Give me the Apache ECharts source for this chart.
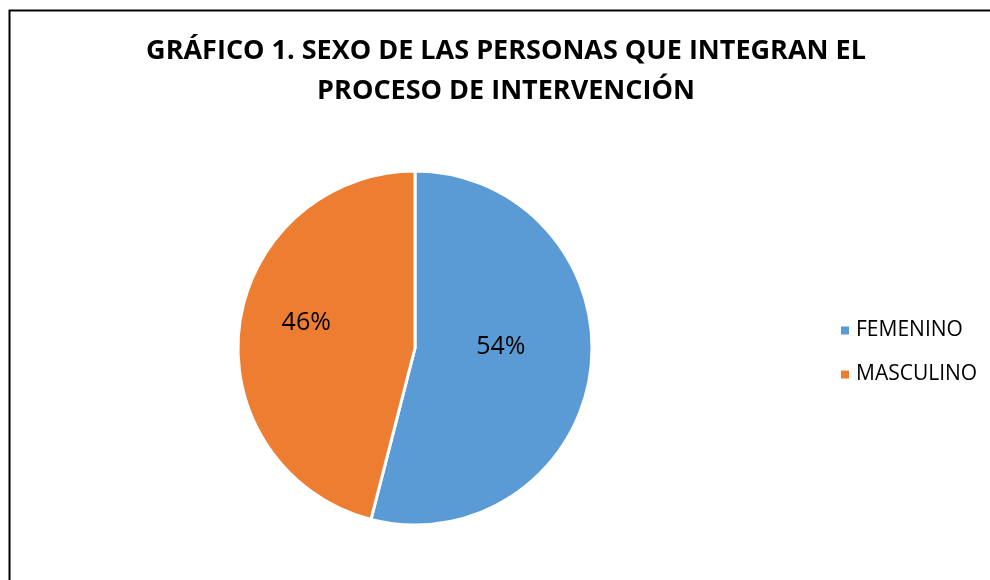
<!DOCTYPE html>
<html><head><meta charset="utf-8">
<script src="https://cdn.jsdelivr.net/npm/echarts@6/dist/echarts.min.js"></script>
<style>html,body{margin:0;padding:0;background:#fff}#c{width:990px;height:580px}</style>
</head><body><div id="c"></div>
<script>
const categories = ["FEMENINO", "MASCULINO"];
const values = [54, 46];
const colors = ["#5B9BD5", "#ED7D31"];
const titleText = "GRÁFICO 1. SEXO DE LAS PERSONAS QUE INTEGRAN EL\nPROCESO DE INTERVENCIÓN";
const labelOffsets = [[-5, -13], [-18, -14]];

const chart = echarts.init(document.getElementById('c'), null, {renderer: 'canvas'});
chart.setOption({
  backgroundColor: '#fff',
  animation: false,
  graphic: [{
    type: 'rect', left: 7, top: 8,
    shape: {width: 1100, height: 700},
    style: {fill: 'none', stroke: '#000', lineWidth: 2}, silent: true
  }],
  title: {
    text: titleText, left: 501, top: 26, textAlign: 'center',
    textStyle: {fontFamily: 'Open Sans', fontWeight: 'bold', fontSize: 27, lineHeight: 40, color: '#000'}
  },
  legend: {
    orient: 'vertical', left: 834, top: 315,
    itemWidth: 10, itemHeight: 10, itemGap: 23, icon: 'rect',
    textStyle: {fontFamily: 'Open Sans', fontSize: 21, color: '#000', padding: [0,0,0,1]},
    data: categories
  },
  series: [{
    type: 'pie', center: [415, 348], radius: 177, startAngle: 90, clockwise: true,
    itemStyle: {borderColor: '#fff', borderWidth: 3},
    label: {show: true, position: 'inside', formatter: '{c}%', fontFamily: 'Open Sans', fontSize: 25, color: '#000'},
    labelLine: {show: false},
    data: categories.map((n, i) => ({name: n, value: values[i], itemStyle: {color: colors[i]}, label: {offset: labelOffsets[i]}}))
  }]
});
</script></body></html>
